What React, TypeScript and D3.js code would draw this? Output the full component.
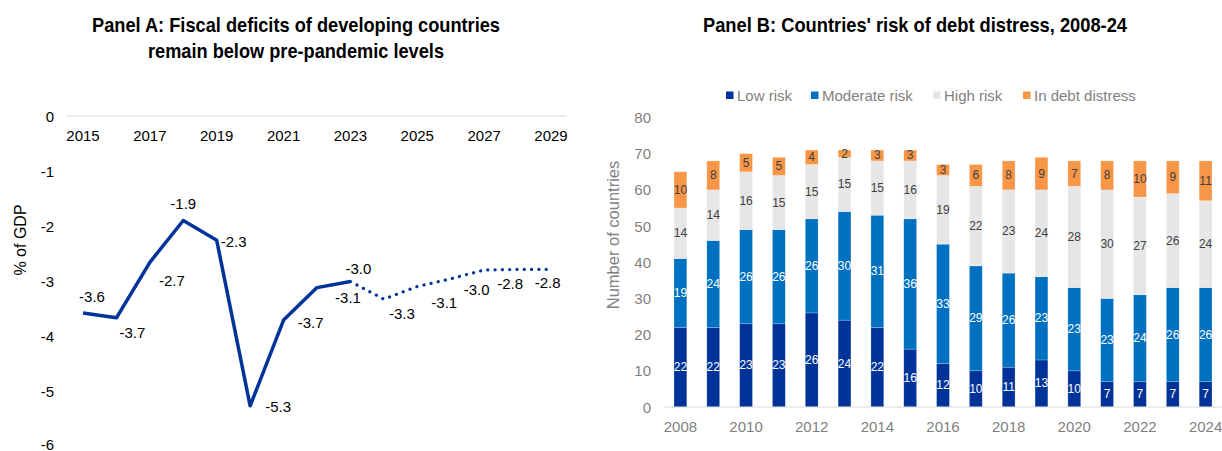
import React from 'react';
import * as d3 from 'd3';

// Panel A: fiscal balance, % of GDP
const actualYears = [2015, 2016, 2017, 2018, 2019, 2020, 2021, 2022, 2023];
const actualValues = [-3.58, -3.67, -2.66, -1.9, -2.26, -5.27, -3.71, -3.12, -3.01];
const projYears = [2023, 2024, 2025, 2026, 2027, 2028, 2029];
const projValues = [-3.01, -3.33, -3.1, -2.96, -2.8, -2.79, -2.79];
const yearTicksA = [2015, 2017, 2019, 2021, 2023, 2025, 2027, 2029];
const valueTicksA = [0, -1, -2, -3, -4, -5, -6];

// Panel B: risk of debt distress
const years = ['2008', '2009', '2010', '2011', '2012', '2013', '2014', '2015', '2016', '2017', '2018', '2019', '2020', '2021', '2022', '2023', '2024'];
const lowRisk = [22, 22, 23, 23, 26, 24, 22, 16, 12, 10, 11, 13, 10, 7, 7, 7, 7];
const moderateRisk = [19, 24, 26, 26, 26, 30, 31, 36, 33, 29, 26, 23, 23, 23, 24, 26, 26];
const highRisk = [14, 14, 16, 15, 15, 15, 15, 16, 19, 22, 23, 24, 28, 30, 27, 26, 24];
const inDistress = [10, 8, 5, 5, 4, 2, 3, 3, 3, 6, 8, 9, 7, 8, 10, 9, 11];
const seriesNames = ['Low risk', 'Moderate risk', 'High risk', 'In debt distress'];
const yearTicksB = ['2008', '2010', '2012', '2014', '2016', '2018', '2020', '2022', '2024'];
const valueTicksB = [0, 10, 20, 30, 40, 50, 60, 70, 80];

const colors = ['#00339a', '#0070c0', '#e6e6e6', '#f79646'];
const labelColors = ['#ffffff', '#ffffff', '#404040', '#404040'];
const lineColor = '#00339a';
const font = 'Liberation Sans, Arial, sans-serif';

// label offsets (dx, dy) from each point, Excel-style placement
const actualNudge = [[9, -16], [16, 15], [22, 18], [0, -17], [17, 1], [28, 1], [27, 2], [31, 10], [8, -13]];
const projNudge = [null, [18, 14], [27, 16], [26, 11], [26, 13], [30, 13], null];

export default function App() {
  // Panel A scales
  const xA = d3.scaleLinear().domain([2015, 2029]).range([83, 551]);
  const yA = d3.scaleLinear().domain([-6, 0]).range([446, 116]);
  const line = d3.line<[number, number]>().x(d => xA(d[0])).y(d => yA(d[1]));
  const actualPts = actualYears.map((y, i) => [y, actualValues[i]] as [number, number]);
  const projPts = projYears.map((y, i) => [y, projValues[i]] as [number, number]);

  // Panel B scales
  const xB = d3.scaleBand().domain(years).range([664, 1222]).paddingInner(0.61).paddingOuter(0.305);
  const yB = d3.scaleLinear().domain([0, 80]).range([407, 117.5]);
  const table = years.map((yr, i) => ({
    year: yr,
    'Low risk': lowRisk[i],
    'Moderate risk': moderateRisk[i],
    'High risk': highRisk[i],
    'In debt distress': inDistress[i],
  }));
  const stacked = d3.stack().keys(seriesNames)(table as any);
  const legendX = [726, 811, 933, 1023];

  return (
    <svg width={1222} height={451} style={{ position: 'absolute', left: 0, top: 0, background: '#fff' }} fontFamily={font}>
      {/* Panel A */}
      <text x={296} y={32} textAnchor="middle" fontSize={21} fontWeight="bold" textLength={408} lengthAdjust="spacingAndGlyphs">Panel A: Fiscal deficits of developing countries</text>
      <text x={296} y={57.5} textAnchor="middle" fontSize={21} fontWeight="bold" textLength={296} lengthAdjust="spacingAndGlyphs">remain below pre-pandemic levels</text>
      <line x1={67} x2={567} y1={yA(0)} y2={yA(0)} stroke="#d9d9d9" strokeWidth={1} />
      {yearTicksA.map(t => (
        <text key={t} x={xA(t)} y={135} textAnchor="middle" dominantBaseline="central" fontSize={15} fill="#000">{t}</text>
      ))}
      {valueTicksA.map(t => (
        <text key={t} x={54} y={Math.min(yA(t), 444)} textAnchor="end" dominantBaseline="central" fontSize={15} fill="#000">{t}</text>
      ))}
      <text transform={`translate(20,${240}) rotate(-90)`} textAnchor="middle" dominantBaseline="central" fontSize={16} fill="#000">% of GDP</text>
      <path d={line(actualPts) || ''} fill="none" stroke={lineColor} strokeWidth={3.5} strokeLinejoin="round" />
      <path d={line(projPts) || ''} fill="none" stroke={lineColor} strokeWidth={3.2} strokeLinecap="round" strokeDasharray="0.1 7.2" />
      {actualPts.map((p, i) => (
        <text key={'a' + i} x={xA(p[0]) + actualNudge[i][0]} y={yA(p[1]) + actualNudge[i][1]} textAnchor="middle" dominantBaseline="central" fontSize={15} fill="#000">{p[1].toFixed(1)}</text>
      ))}
      {projPts.map((p, i) => projNudge[i] ? (
        <text key={'p' + i} x={xA(p[0]) + projNudge[i][0]} y={yA(p[1]) + projNudge[i][1]} textAnchor="middle" dominantBaseline="central" fontSize={15} fill="#000">{p[1].toFixed(1)}</text>
      ) : null)}

      {/* Panel B */}
      <text x={915} y={32} textAnchor="middle" fontSize={21} fontWeight="bold" textLength={424} lengthAdjust="spacingAndGlyphs">Panel B: Countries' risk of debt distress, 2008-24</text>
      {seriesNames.map((s, i) => (
        <g key={s}>
          <rect x={legendX[i]} y={91.5} width={7.5} height={7.5} fill={colors[i]} />
          <text x={legendX[i] + 11} y={95.5} dominantBaseline="central" fontSize={15} fill="#7f7f7f">{s}</text>
        </g>
      ))}
      {valueTicksB.map(t => (
        <text key={t} x={651} y={yB(t)} textAnchor="end" dominantBaseline="central" fontSize={15} fill="#7f7f7f">{t}</text>
      ))}
      <text transform={`translate(613,${235}) rotate(-90)`} textAnchor="middle" dominantBaseline="central" fontSize={16.5} fill="#7f7f7f">Number of countries</text>
      {stacked.map((layer, si) => (
        <g key={layer.key}>
          {layer.map((d, i) => (
            <rect key={i} x={xB(years[i])} width={xB.bandwidth()} y={yB(d[1])} height={yB(d[0]) - yB(d[1])} fill={colors[si]} stroke="#ffffff" strokeOpacity={0.35} strokeWidth={0.6} />
          ))}
        </g>
      ))}
      {stacked.map((layer, si) => (
        <g key={'l' + layer.key}>
          {layer.map((d, i) => (
            <text key={i} x={(xB(years[i]) as number) + xB.bandwidth() / 2} y={yB((d[0] + d[1]) / 2)} textAnchor="middle" dominantBaseline="central" fontSize={12} fill={labelColors[si]}>{d[1] - d[0]}</text>
          ))}
        </g>
      ))}
      <line x1={664} x2={1222} y1={yB(0)} y2={yB(0)} stroke="#d9d9d9" strokeWidth={1} />
      {yearTicksB.map(t => (
        <text key={t} x={(xB(t) as number) + xB.bandwidth() / 2} y={426} textAnchor="middle" dominantBaseline="central" fontSize={15} fill="#7f7f7f">{t}</text>
      ))}
    </svg>
  );
}
